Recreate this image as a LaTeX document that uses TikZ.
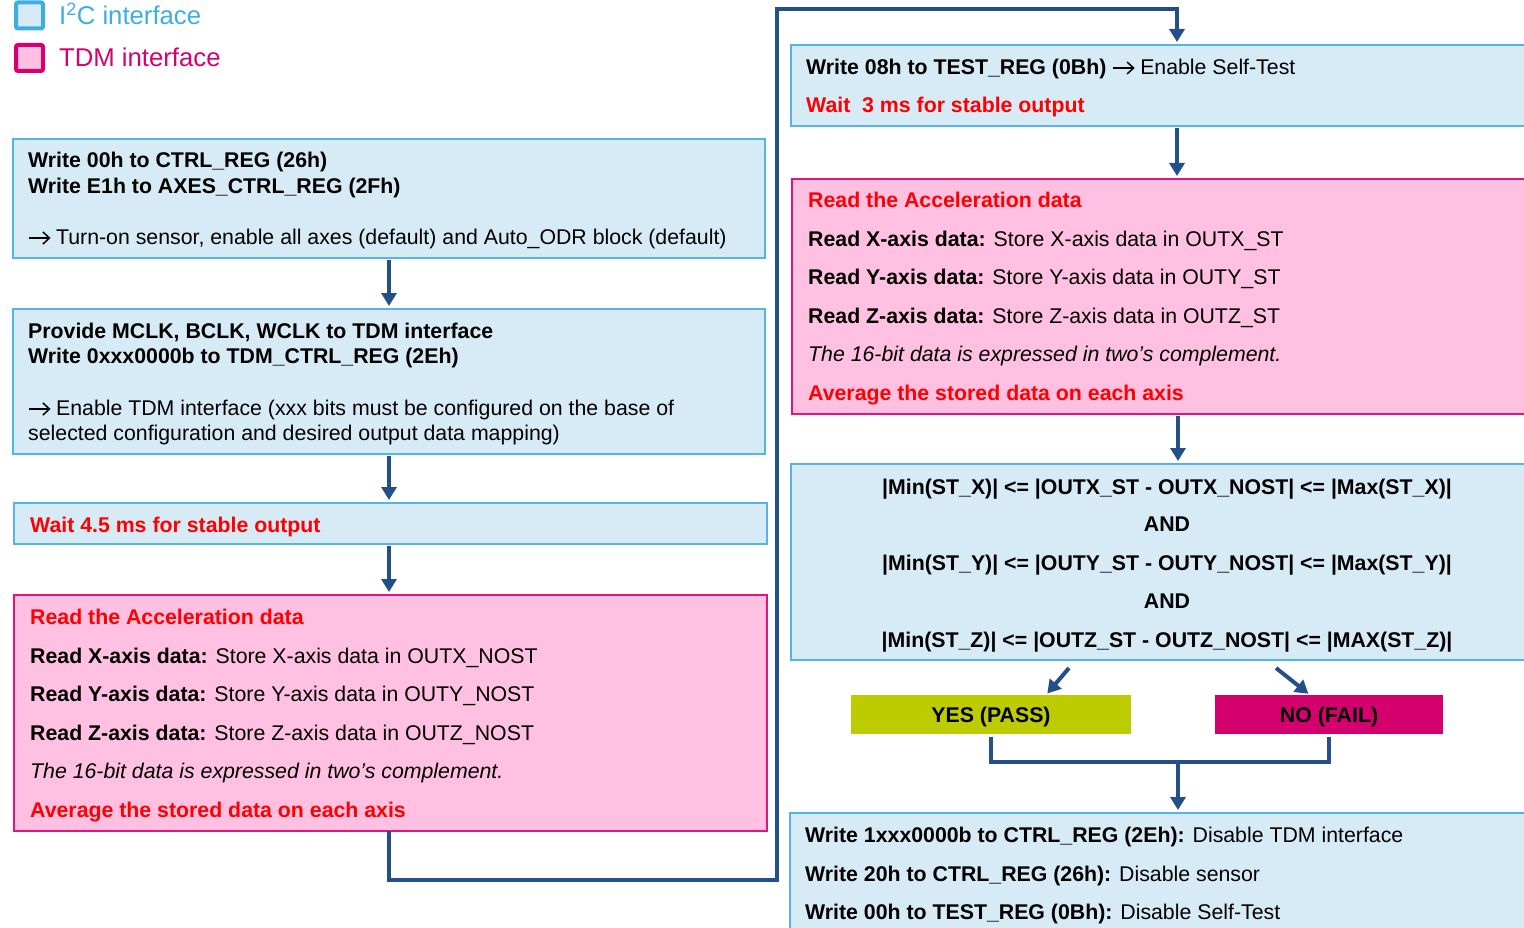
\documentclass[tikz,border=0pt]{standalone}
\usepackage{fontspec}
\setmainfont{Liberation Sans}
\usetikzlibrary{arrows.meta}
\definecolor{bfill}{HTML}{D7EBF7}
\definecolor{bline}{HTML}{56B4E4}
\definecolor{pfill}{HTML}{FFC0E2}
\definecolor{pline}{HTML}{E2147E}
\definecolor{arrc}{HTML}{24508A}
\definecolor{yesc}{HTML}{BDCC00}
\definecolor{noc}{HTML}{D4006E}
\definecolor{stred}{HTML}{FF0000}
\definecolor{legb}{HTML}{3DAEE0}
\definecolor{legp}{HTML}{D8006F}
\newsavebox\arrbox
\sbox\arrbox{\tikz[baseline=0pt, line width=1.5pt, line cap=butt, line join=miter]{%
  \draw (0pt,6.5pt) -- (20pt,6.5pt);
  \draw (14pt,0.5pt) -- (20.5pt,6.5pt) -- (14pt,12.5pt);}}
\newcommand\arr{\usebox\arrbox}
\newcommand\txtline[4]{\node[txt] (#1) at (#2,#3) {#4};}
\begin{document}
\begin{tikzpicture}[x=1pt,y=-1pt,
  ibox/.style={draw=bline, fill=bfill, line width=2pt, anchor=north west, inner sep=0pt, outer sep=0pt},
  tbox/.style={draw=pline, fill=pfill, line width=2pt, anchor=north west, inner sep=0pt, outer sep=0pt},
  txt/.style={anchor=base west, inner sep=0pt, yshift=-1.5pt, font=\fontsize{21.3}{26}\selectfont},
  ctxt/.style={anchor=base, inner sep=0pt, font=\fontsize{21.3}{26}\selectfont\bfseries},
  conn/.style={draw=arrc, line width=4pt, -{Triangle[width=15pt,length=13pt]}, shorten <=2pt, shorten >=3pt},
  link/.style={draw=arrc, line width=4pt, shorten <=3pt},
  legbox/.style={line width=4pt, rounded corners=2pt, minimum width=27pt, minimum height=26pt, inner sep=0pt},
  res/.style={anchor=north west, inner sep=0pt, outer sep=0pt}
]
\useasboundingbox (0,0) rectangle (1524,928);
\clip (0,0) rectangle (1524,928);

% legend
\node[legbox, draw=legb, fill=bfill] (lg1) at (29.5,15.5) {};
\node[legbox, draw=legp, fill=pfill] (lg2) at (29.5,58) {};
\node[anchor=base west, inner sep=0pt, text=legb, font=\fontsize{25.7}{30}\selectfont] (lt1) at (59,25) {I\textsuperscript{2}C interface};
\node[anchor=base west, inner sep=0pt, text=legp, font=\fontsize{25.7}{30}\selectfont] (lt2) at (59,67) {TDM interface};

% left column boxes
\node[ibox, minimum width=752pt, minimum height=119pt] (b1) at (13,139) {};
\node[ibox, minimum width=752pt, minimum height=145pt] (b2) at (13,309) {};
\node[ibox, minimum width=753pt, minimum height=41pt] (b3) at (14,503) {};
\node[tbox, minimum width=753pt, minimum height=236pt] (b4) at (14,595) {};

% right column boxes
\node[ibox, minimum width=772pt, minimum height=81pt] (b5) at (791,45) {};
\node[tbox, minimum width=772pt, minimum height=235pt] (b6) at (792,179) {};
\node[ibox, minimum width=774pt, minimum height=196pt] (b7) at (791,464) {};
\node[res, fill=yesc, minimum width=280pt, minimum height=39pt] (yes) at (851,695) {};
\node[res, fill=noc, minimum width=228pt, minimum height=39pt] (no) at (1215,695) {};
\node[ibox, minimum width=776pt, minimum height=200pt] (b8) at (790,813) {};

% texts box 1
\txtline{t11}{28}{166}{\textbf{Write 00h to CTRL\_REG (26h)}}
\txtline{t12}{28}{192}{\textbf{Write E1h to AXES\_CTRL\_REG (2Fh)}}
\txtline{t13}{28}{243}{\arr{} Turn-on sensor, enable all axes (default) and Auto\_ODR block (default)}
% box 2
\txtline{t21}{28}{337}{\textbf{Provide MCLK, BCLK, WCLK to TDM interface}}
\txtline{t22}{28}{362}{\textbf{Write 0xxx0000b to TDM\_CTRL\_REG (2Eh)}}
\txtline{t23}{28}{414}{\arr{} Enable TDM interface (xxx bits must be configured on the base of}
\txtline{t24}{28}{439}{selected configuration and desired output data mapping)}
% box 3
\txtline{t31}{30}{531}{\color{stred}\textbf{Wait 4.5 ms for stable output}}
% box 4
\txtline{t41}{30}{623}{\color{stred}\textbf{Read the Acceleration data}}
\txtline{t42}{30}{662}{\textbf{Read X-axis data:} Store X-axis data in OUTX\_NOST}
\txtline{t43}{30}{700}{\textbf{Read Y-axis data:} Store Y-axis data in OUTY\_NOST}
\txtline{t44}{30}{739}{\textbf{Read Z-axis data:} Store Z-axis data in OUTZ\_NOST}
\txtline{t45}{30}{777}{\textit{The 16-bit data is expressed in two’s complement.}}
\txtline{t46}{30}{816}{\color{stred}\textbf{Average the stored data on each axis}}
% box 5
\txtline{t51}{806}{73}{\textbf{Write 08h to TEST\_REG (0Bh)} \arr{} Enable Self-Test}
\txtline{t52}{806}{111}{\color{stred}\textbf{Wait\ \ 3 ms for stable output}}
% box 6
\txtline{t61}{808}{206}{\color{stred}\textbf{Read the Acceleration data}}
\txtline{t62}{808}{245}{\textbf{Read X-axis data:} Store X-axis data in OUTX\_ST}
\txtline{t63}{808}{283}{\textbf{Read Y-axis data:} Store Y-axis data in OUTY\_ST}
\txtline{t64}{808}{322}{\textbf{Read Z-axis data:} Store Z-axis data in OUTZ\_ST}
\txtline{t65}{808}{360}{\textit{The 16-bit data is expressed in two’s complement.}}
\txtline{t66}{808}{399}{\color{stred}\textbf{Average the stored data on each axis}}
% box 7
\node[ctxt] (t71) at (1167,494) {|Min(ST\_X)| <= |OUTX\_ST - OUTX\_NOST| <= |Max(ST\_X)|};
\node[ctxt] (t72) at (1167,531) {AND};
\node[ctxt] (t73) at (1167,570) {|Min(ST\_Y)| <= |OUTY\_ST - OUTY\_NOST| <= |Max(ST\_Y)|};
\node[ctxt] (t74) at (1167,608) {AND};
\node[ctxt] (t75) at (1167,647) {|Min(ST\_Z)| <= |OUTZ\_ST - OUTZ\_NOST| <= |MAX(ST\_Z)|};
% yes / no labels
\node[ctxt] (ty) at ([yshift=-7.5pt]yes.center) {YES (PASS)};
\node[ctxt] (tn) at ([yshift=-7.5pt]no.center) {NO (FAIL)};
% box 8
\txtline{t81}{805}{841}{\textbf{Write 1xxx0000b to CTRL\_REG (2Eh):} Disable TDM interface}
\txtline{t82}{805}{880}{\textbf{Write 20h to CTRL\_REG (26h):} Disable sensor}
\txtline{t83}{805}{918}{\textbf{Write 00h to TEST\_REG (0Bh):} Disable Self-Test}

% connectors
\draw[conn] (b1.south) -- (b1.south |- b2.north);
\draw[conn] (b2.south) -- (b2.south |- b3.north);
\draw[conn] (b2.south |- b3.south) -- (b2.south |- b4.north);
\coordinate (c1) at (777,880);
\coordinate (c2) at (777,9);
\draw[conn, shorten <=0pt] (b2.south |- b4.south) -- (b2.south |- c1) -- (c1) -- (c2) -- (c2 -| b5.north) -- (b5.north);
\draw[conn] (b5.south) -- (b5.south |- b6.north);
\draw[conn] (b6.south) -- (b6.south |- b7.north);
\draw[conn, shorten <=0pt, shorten >=2pt] ([xshift=-109pt,yshift=-8pt]b7.south) -- ([xshift=55pt]yes.north);
\draw[conn, shorten <=0pt, shorten >=2pt] ([xshift=98pt,yshift=-8pt]b7.south) -- ([xshift=-19pt]no.north);
\coordinate (j) at (1178,762);
\draw[link] (yes.south) |- (j);
\draw[link] (no.south) |- (j);
\draw[conn, shorten <=0pt] (j) -- (j |- b8.north);
\end{tikzpicture}
\end{document}
